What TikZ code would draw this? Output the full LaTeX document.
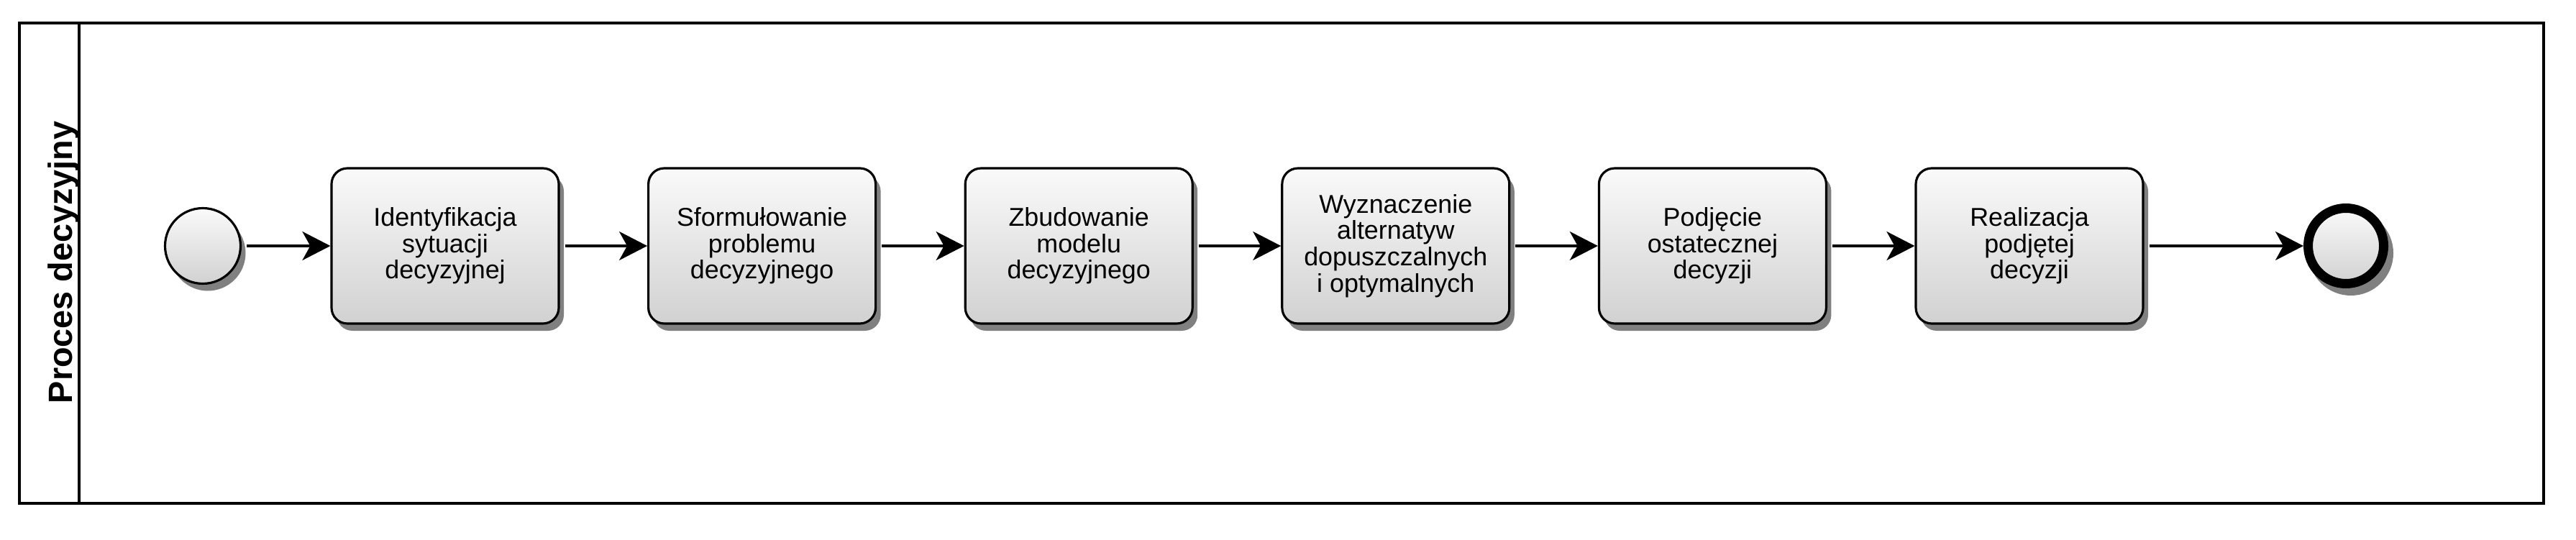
\documentclass[tikz,border=0pt]{standalone}
\usepackage{fontspec}
\setmainfont{Liberation Sans}
\usetikzlibrary{arrows.meta,shadows}

\begin{document}
\begin{tikzpicture}[task/.style = {rectangle, rounded corners=0.22cm, draw, line width=0.9pt, minimum width=3.16cm, minimum height=2.16cm, inner sep=0pt, align=center, top color=black!2, bottom color=black!18, font=\fontsize{10.2}{10.45}\selectfont, drop shadow={shadow xshift=0.07cm, shadow yshift=-0.1cm, fill=black!50, opacity=1}},
    event/.style = {circle, draw, line width=0.9pt, minimum size=1.05cm, inner sep=0pt, top color=black!2, bottom color=black!18, drop shadow={shadow xshift=0.07cm, shadow yshift=-0.1cm, fill=black!50, opacity=1}},
    flow/.style = {-{Stealth[length=3.9mm, width=4mm, inset=1.1mm]}, line width=0.9pt, shorten <=0.07cm}]
    \useasboundingbox (0,0) rectangle (35.82,7.5);

    \draw [line width=0.9pt] (0.27,0.50) rectangle (35.37,7.18);
    \draw [line width=0.9pt] (1.10,0.50) -- (1.10,7.18);
    \node (lane) [rotate=90, font=\fontsize{13.3}{15}\selectfont\bfseries] at (0.88,3.85) {Proces decyzyjny};

    \node (start) [event] at (2.82,4.08) {};

    \foreach \t [count=\i] in {{Identyfikacja\\sytuacji\\decyzyjnej}, {Sformułowanie\\problemu\\decyzyjnego}, {Zbudowanie\\modelu\\decyzyjnego}, {Wyznaczenie\\alternatyw\\dopuszczalnych\\i optymalnych}, {Podjęcie\\ostatecznej\\decyzji}, {Realizacja\\podjętej\\decyzji}}
    {
      \pgfmathsetmacro{\x}{6.19 + 4.406 * (\i - 1)}
      \node (t\i) [task] at (\x, 4.08) {\t};
    }

    \node (end) [event, line width=3.7pt, drop shadow={shadow xshift=0.07cm, shadow yshift=-0.1cm, fill=black!50, draw=black!50, line width=3.7pt, opacity=1}] at (32.62,4.08) {};

    \draw [flow] (start) -- (t1);
    \foreach \i in {2,...,6}
    {
      \pgfmathtruncatemacro{\prev}{\i - 1}
      \draw [flow] (t\prev) -- (t\i);
    }
    \draw [flow] (t6) -- (end);
  \end{tikzpicture}
\end{document}
